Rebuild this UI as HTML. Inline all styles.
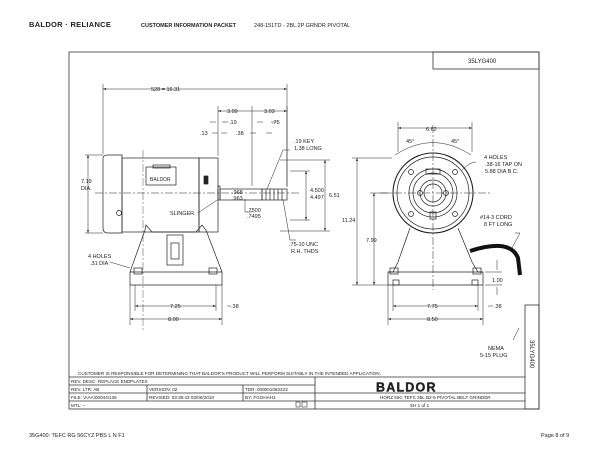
<!DOCTYPE html>
<html><head><style>
html,body{margin:0;padding:0;background:#fff;}
svg{display:block;}
text{font-family:"Liberation Sans",sans-serif;fill:#222;}
</style></head><body>
<svg width="600" height="464" viewBox="0 0 600 464" xmlns="http://www.w3.org/2000/svg">
<defs>
<marker id="a" markerWidth="6" markerHeight="4" refX="6" refY="2" orient="auto-start-reverse"><path d="M0,0L6,2L0,4z" fill="#222"/></marker>
</defs>
<!-- header -->
<text x="29" y="27" font-size="7.5" font-weight="bold" font-family="Liberation Serif" letter-spacing="0.3">BALDOR · RELIANCE</text>
<text x="141" y="27" font-size="5.5" font-weight="bold">CUSTOMER INFORMATION PACKET</text>
<text x="254" y="27" font-size="5.5" fill="#555">248-151TD - 2BL 2P GRNDR PIVOTAL</text>
<!-- frame -->
<g fill="none" stroke="#333" stroke-width="0.8">
<rect x="69" y="52" width="470" height="357"/>
<rect x="433" y="52" width="106" height="17"/>
<rect x="525" y="305" width="14" height="104"/>
<line x1="69" y1="377" x2="525" y2="377"/>
<line x1="69" y1="385" x2="315" y2="385"/>
<line x1="69" y1="393" x2="315" y2="393"/>
<line x1="69" y1="401" x2="315" y2="401"/>
<line x1="315" y1="393" x2="525" y2="393"/>
<line x1="315" y1="401" x2="525" y2="401"/>
<line x1="315" y1="377" x2="315" y2="409"/>
<line x1="147" y1="385" x2="147" y2="401"/>
<line x1="243" y1="385" x2="243" y2="401"/>
</g>
<text x="468" y="63" font-size="6">35LYG400</text>
<text x="530" y="340" font-size="6" transform="rotate(90 530 340)">35LYG400</text>
<g font-size="4.6">
<text x="78" y="375">CUSTOMER IS RESPONSIBLE FOR DETERMINING THAT BALDOR'S PRODUCT WILL PERFORM SUITABLY IN THE INTENDED APPLICATION.</text>
<text x="71" y="383">REV. DESC: REPLACE ENDPLATES</text>
<text x="71" y="391">REV. LTR: AB</text>
<text x="149" y="391">VERSION: 02</text>
<text x="245" y="391">TDR: 000001063223</text>
<text x="71" y="399">FILE: \AAA\00044\136</text>
<text x="149" y="399">REVISED: 03:36:43 03/06/2018</text>
<text x="245" y="399">BY: FGOHAH1</text>
<text x="71" y="407">MTL: –</text>
<text x="380" y="399">HORZ 56C TEFC 35L B2-5 PIVOTAL BELT GRINDER</text>
<text x="410" y="407">SH 1 of 1</text>
</g>
<text x="376" y="391.5" font-size="12.5" font-weight="bold" font-family="Liberation Serif" letter-spacing="1.2" stroke="#222" stroke-width="0.4">BALDOR</text>
<rect x="296" y="402" width="4" height="5" fill="none" stroke="#333" stroke-width="0.6"/>
<rect x="302" y="402" width="5" height="5" fill="none" stroke="#333" stroke-width="0.6"/>
<!-- footer -->
<text x="29" y="437" font-size="5.5">35G400: TEFC RG 56CYZ PBS L N F1</text>
<text x="541" y="437" font-size="5.5">Page 8 of 9</text>

<!-- side view -->
<g fill="none" stroke="#222" stroke-width="0.7">
<path d="M103,158 Q103,155 108,155 L122,155 L122,233 L108,233 Q103,233 103,228 Z"/>
<rect x="122" y="158" width="77" height="74"/>
<rect x="199" y="158" width="19" height="74"/>
<rect x="146" y="167" width="30" height="18"/>
<rect x="153" y="165" width="17" height="3"/>
<rect x="218" y="186" width="2" height="14"/>
<rect x="220" y="189" width="42" height="11"/>
<rect x="262" y="189" width="25" height="11"/>
<path d="M266,189v11M270,189v11M274,189v11M278,189v11M282,189v11"/>
<path d="M146,225 L145,230 L130,272 L130,285 L222,285 L222,272 L206,230 L202,225 L196,232 L152,232 Z"/>
<line x1="130" y1="272" x2="222" y2="272"/>
<rect x="167" y="235" width="16" height="30"/>
<rect x="171" y="243" width="8" height="16"/>
<rect x="134" y="268" width="8" height="6"/>
<rect x="209" y="268" width="8" height="6"/>
<rect x="204" y="176" width="4" height="8" fill="#222"/>
<circle cx="119" cy="213" r="2.5"/>
</g>
<line x1="95" y1="193" x2="300" y2="193" stroke="#222" stroke-width="0.5" stroke-dasharray="8,2,2,2"/>
<line x1="143" y1="150" x2="143" y2="330" stroke="#222" stroke-width="0.4" stroke-dasharray="8,2,2,2"/>
<!-- side view dims -->
<g stroke="#222" stroke-width="0.5" fill="none">
<path d="M103,84v70M287,84v103M218,106v50M252,106v80M287,106v80"/>
<line x1="103" y1="89" x2="287" y2="89" marker-start="url(#a)" marker-end="url(#a)"/>
<line x1="218" y1="111" x2="287" y2="111" marker-start="url(#a)" marker-end="url(#a)"/>
<path d="M210,122h6M222,122h6M212,133h6M221,133h6M250,133h6M266,133h6M257,122h6M271,122h6"/>
<path d="M85,155h18M85,233h18"/>
<line x1="88" y1="155" x2="88" y2="233" marker-start="url(#a)" marker-end="url(#a)"/>
<path d="M280,160h50M280,231h50M290,171h20M290,220h20"/>
<line x1="325" y1="160" x2="325" y2="231" marker-start="url(#a)" marker-end="url(#a)"/>
<line x1="306" y1="171" x2="306" y2="220" marker-start="url(#a)" marker-end="url(#a)"/>
<path d="M130,285v40M222,285v40M216,285v26M135,285v26"/>
<line x1="135" y1="306" x2="216" y2="306" marker-start="url(#a)" marker-end="url(#a)"/>
<line x1="130" y1="319" x2="222" y2="319" marker-start="url(#a)" marker-end="url(#a)"/>
<path d="M227,306h4"/>
<path d="M267,189 L283,150 L290,150"/>
<path d="M283,200 L290,240 L296,240"/>
<path d="M198,213 L217,200"/>
<path d="M110,262 L130,268"/>
<path d="M252,212 L245,212 L245,199"/>
</g>
<g font-size="5.5">
<text x="151" y="91">528 = 16.31</text>
<text x="227" y="113">3.09</text>
<text x="264" y="113">3.03</text>
<text x="229" y="124">.19</text>
<text x="272" y="124">.75</text>
<text x="200" y="135">.13</text>
<text x="236" y="135">.38</text>
<text x="294" y="143">.19 KEY</text>
<text x="294" y="150">1.38 LONG</text>
<text x="81" y="183">7.19</text>
<text x="81" y="190">DIA.</text>
<text x="310" y="192">4.500</text>
<text x="310" y="199">4.497</text>
<text x="329" y="197">6.51</text>
<text x="232" y="194">.968</text>
<text x="232" y="200">.963</text>
<text x="247" y="212">.7500</text>
<text x="247" y="218">.7495</text>
<text x="289" y="246">.75-10 UNC</text>
<text x="291" y="253">R.H. THDS</text>
<text x="170" y="215">SLINGER</text>
<text x="88" y="258">4 HOLES</text>
<text x="90" y="265">.31 DIA</text>
<text x="170" y="308">7.25</text>
<text x="231" y="308">.38</text>
<text x="168" y="321">8.00</text>
<text x="150" y="181" font-size="5">BALDOR</text>
</g>

<!-- front view -->
<g fill="none" stroke="#222" stroke-width="0.7">
<path d="M410,228 L398,262 L393,272 L388,272 L388,285 L483,285 L483,272 L478,272 L472,262 L458,228"/>
<line x1="388" y1="272" x2="483" y2="272"/>
<rect x="390" y="268" width="8" height="6"/><rect x="473" y="268" width="8" height="6"/>
<rect x="393" y="280" width="6" height="5"/><rect x="472" y="280" width="6" height="5"/>
<circle cx="433" cy="193" r="40" stroke-width="1.1"/>
<circle cx="433" cy="193" r="36"/>
<circle cx="433" cy="193" r="24"/>
<circle cx="433" cy="193" r="20"/>
<circle cx="433" cy="193" r="13"/>
<circle cx="433" cy="193" r="9"/>
<circle cx="411" cy="172" r="2.5"/><circle cx="455" cy="172" r="2.5"/>
<circle cx="411" cy="214" r="2.5"/><circle cx="455" cy="214" r="2.5"/>
<circle cx="420" cy="193" r="2.5"/><circle cx="446" cy="193" r="2.5"/>
<rect x="426" y="169" width="14" height="5"/>
<rect x="430" y="212" width="6" height="7"/>
</g>
<path d="M470,251 Q510,238 518,258 L520,275" fill="none" stroke="#111" stroke-width="4"/>
<g stroke="#222" stroke-width="0.5" fill="none">
<line x1="380" y1="193" x2="490" y2="193" stroke-dasharray="8,2,2,2"/>
<line x1="433" y1="125" x2="433" y2="290" stroke-dasharray="8,2,2,2"/>
<path d="M398,122v30M472,122v30"/>
<line x1="398" y1="128" x2="472" y2="128" marker-start="url(#a)" marker-end="url(#a)"/>
<path d="M395,155 Q433,130 471,155"/>
<path d="M352,158h40M352,285h36M370,193h20"/>
<line x1="357" y1="158" x2="357" y2="285" marker-start="url(#a)" marker-end="url(#a)"/>
<line x1="374" y1="193" x2="374" y2="285" marker-start="url(#a)" marker-end="url(#a)"/>
<path d="M388,285v40M483,285v40M393,285v26M478,285v26M485,272h17M485,285h17"/>
<line x1="393" y1="306" x2="478" y2="306" marker-start="url(#a)" marker-end="url(#a)"/>
<line x1="388" y1="319" x2="483" y2="319" marker-start="url(#a)" marker-end="url(#a)"/>
<path d="M488,306h5"/>
<path d="M497,260v10M497,287v8"/>
<path d="M462,170 Q470,162 476,162"/>
<path d="M512,248 L520,233 L515,233"/>
<path d="M513,340 L519,328"/>
</g>
<g font-size="5.5">
<text x="426" y="131">6.62</text>
<text x="406" y="143">45°</text>
<text x="451" y="143">45°</text>
<text x="484" y="159">4 HOLES</text>
<text x="485" y="166">.38-16 TAP ON</text>
<text x="485" y="173">5.88 DIA B.C.</text>
<text x="480" y="219">#14-3 CORD</text>
<text x="484" y="226">8 FT LONG</text>
<text x="342" y="222">11.24</text>
<text x="366" y="242">7.99</text>
<text x="492" y="282">1.00</text>
<text x="427" y="308">7.75</text>
<text x="494" y="308">.38</text>
<text x="427" y="321">8.50</text>
<text x="488" y="350">NEMA</text>
<text x="480" y="357">5-15 PLUG</text>
</g>
</svg>
</body></html>
